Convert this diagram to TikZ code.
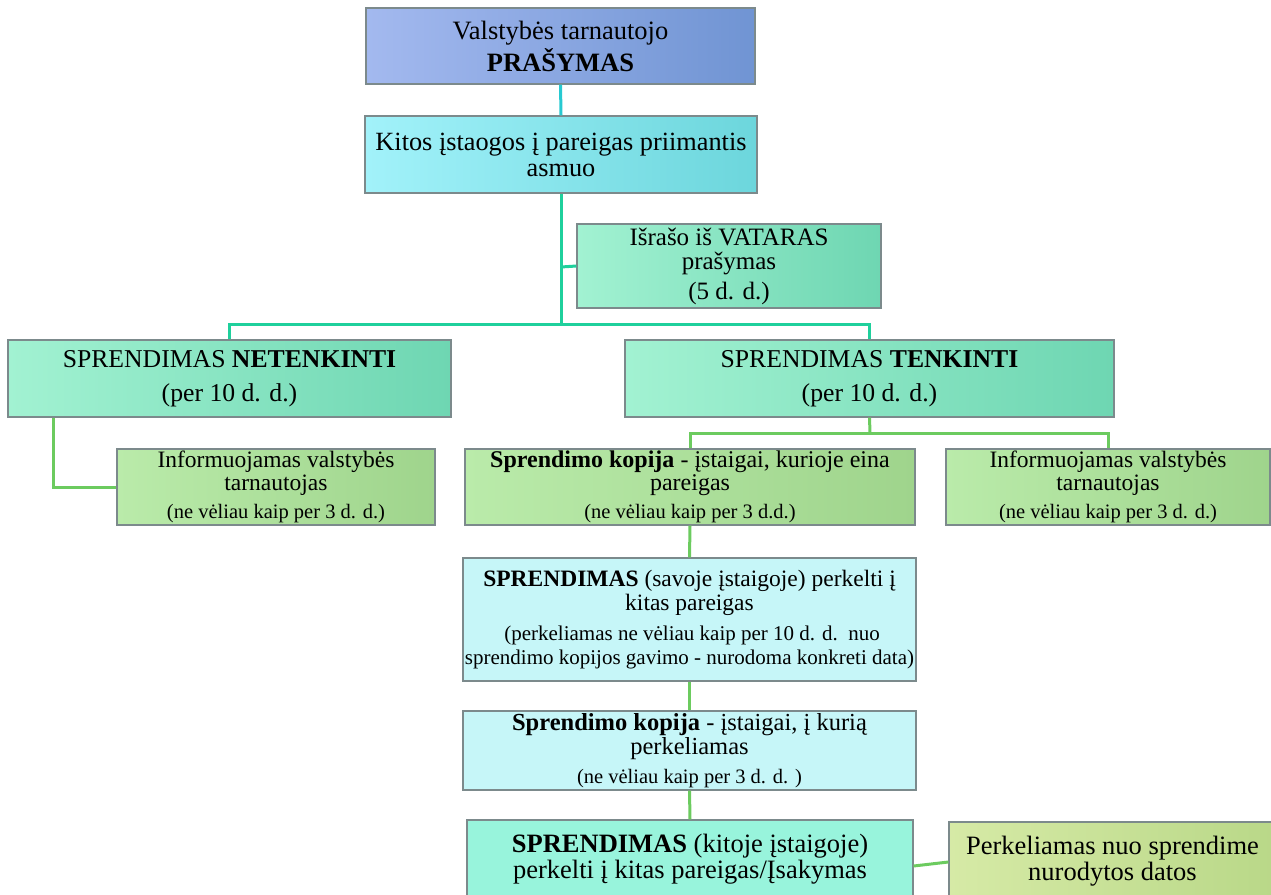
\documentclass[tikz,border=0pt]{standalone}
\usepackage{fontspec}
\setmainfont{Liberation Serif}
\definecolor{bordergray}{HTML}{7C8A8C}
\definecolor{blueL}{HTML}{A3B9EF}
\definecolor{blueR}{HTML}{7094D3}
\definecolor{cyanL}{HTML}{A2F2FA}
\definecolor{cyanR}{HTML}{6CD6DC}
\definecolor{mintL}{HTML}{A2F2D2}
\definecolor{mintR}{HTML}{6ED6B2}
\definecolor{lgreenL}{HTML}{BAEBAA}
\definecolor{lgreenR}{HTML}{9FD48C}
\definecolor{paleCyan}{HTML}{C6F6F8}
\definecolor{aquaMint}{HTML}{98F4DC}
\definecolor{yelL}{HTML}{D6EAA6}
\definecolor{yelR}{HTML}{B9D888}
\definecolor{lineCyan}{HTML}{27C9D1}
\definecolor{lineTeal}{HTML}{1FD09C}
\definecolor{lineGreen}{HTML}{6CCB5F}
\newcommand{\smallpar}{\fontsize{20.5}{23}\selectfont}
\newcommand{\tinypar}{\fontsize{21}{23}\selectfont}
\begin{document}
\begin{tikzpicture}[x=1pt,y=-1pt,
  box/.style={draw=bordergray, line width=1.2pt, align=center, inner sep=0pt, anchor=center},
  cyanline/.style={draw=lineCyan, line width=3pt},
  tealline/.style={draw=lineTeal, line width=3pt},
  greenline/.style={draw=lineGreen, line width=3pt}]
\useasboundingbox (0,0) rectangle (1271,894);
\clip (0,0) rectangle (1271,894);

\node[box, left color=blueL, right color=blueR, minimum width=389pt, minimum height=76pt,
  font=\fontsize{26.5}{32}\selectfont] (req) at (560.5,46)
  {Valstybės tarnautojo\\\textbf{PRAŠYMAS}};
\node[box, left color=cyanL, right color=cyanR, minimum width=392pt, minimum height=77pt,
  font=\fontsize{26.3}{26}\selectfont] (acc) at (561,154.5)
  {Kitos įstaogos į pareigas priimantis\\asmuo};
\node[box, left color=mintL, right color=mintR, minimum width=304pt, minimum height=84pt,
  font=\fontsize{25}{24}\selectfont] (isr) at (729,266)
  {Išrašo iš VATARAS\\prašymas\\[6pt](5 d. d.)};
\node[box, left color=mintL, right color=mintR, minimum width=443pt, minimum height=77pt,
  font=\fontsize{25.7}{34}\selectfont] (net) at (229.5,378.5)
  {SPRENDIMAS \textbf{NETENKINTI}\\(per 10 d. d.)};
\node[box, left color=mintL, right color=mintR, minimum width=489pt, minimum height=77pt,
  font=\fontsize{25.7}{34}\selectfont] (ten) at (869.5,378.5)
  {SPRENDIMAS \textbf{TENKINTI}\\(per 10 d. d.)};
\node[box, left color=lgreenL, right color=lgreenR, minimum width=318pt, minimum height=76pt,
  font=\fontsize{23.5}{23}\selectfont] (infl) at (276,487)
  {Informuojamas valstybės\\tarnautojas\\[5pt]\smallpar(ne vėliau kaip per 3 d. d.)};
\node[box, left color=lgreenL, right color=lgreenR, minimum width=450pt, minimum height=76pt,
  font=\fontsize{24}{23}\selectfont] (kop1) at (690,487)
  {\textbf{Sprendimo kopija} - įstaigai, kurioje eina\\pareigas\\[5pt]\smallpar(ne vėliau kaip per 3 d.d.)};
\node[box, left color=lgreenL, right color=lgreenR, minimum width=324pt, minimum height=76pt,
  font=\fontsize{23.5}{23}\selectfont] (infr) at (1108,487)
  {Informuojamas valstybės\\tarnautojas\\[5pt]\smallpar(ne vėliau kaip per 3 d. d.)};
\node[box, fill=paleCyan, minimum width=453pt, minimum height=123pt,
  font=\fontsize{23.5}{24}\selectfont] (sav) at (689.5,619.5)
  {\textbf{SPRENDIMAS} (savoje įstaigoje) perkelti į\\kitas pareigas\\[6pt]
   \tinypar\ (perkeliamas ne vėliau kaip per 10 d. d.\ \ nuo\\\tinypar sprendimo kopijos gavimo - nurodoma konkreti data)};
\node[box, fill=paleCyan, minimum width=453pt, minimum height=79pt,
  font=\fontsize{24.5}{24}\selectfont] (kop2) at (689.5,750.5)
  {\textbf{Sprendimo kopija} - įstaigai, į kurią\\perkeliamas\\[5pt]\smallpar(ne vėliau kaip per 3 d. d. )};
\node[box, fill=aquaMint, minimum width=446pt, minimum height=78pt,
  font=\fontsize{26.5}{26}\selectfont] (kit) at (690,859)
  {\textbf{SPRENDIMAS} (kitoje įstaigoje)\\perkelti į kitas pareigas/Įsakymas};
\node[box, left color=yelL, right color=yelR, minimum width=327pt, minimum height=78pt,
  font=\fontsize{26.5}{26}\selectfont] (perk) at (1112.5,861)
  {Perkeliamas nuo sprendime\\nurodytos datos};

\coordinate (j1) at (561,267);
\coordinate (j2) at (561,324);
\coordinate (j3) at (870,433);

\draw[cyanline] (req.south) -- (acc.north);
\draw[tealline] (acc.south) -- (j2);
\draw[tealline] (j1) -- (isr.west);
\draw[tealline] (net.north) |- (j2) -| (ten.north);
\draw[greenline] ([xshift=-176.5pt]net.south) |- (infl.west);
\draw[greenline] (ten.south) -- (j3);
\draw[greenline] (kop1.north) |- (j3) -| (infr.north);
\draw[greenline] (kop1.south) -- (sav.north);
\draw[greenline] (sav.south) -- (kop2.north);
\draw[greenline] (kop2.south) -- (kit.north);
\draw[greenline] ([yshift=-7pt]kit.east) -- ([yshift=-1pt]perk.west);
\end{tikzpicture}
\end{document}
